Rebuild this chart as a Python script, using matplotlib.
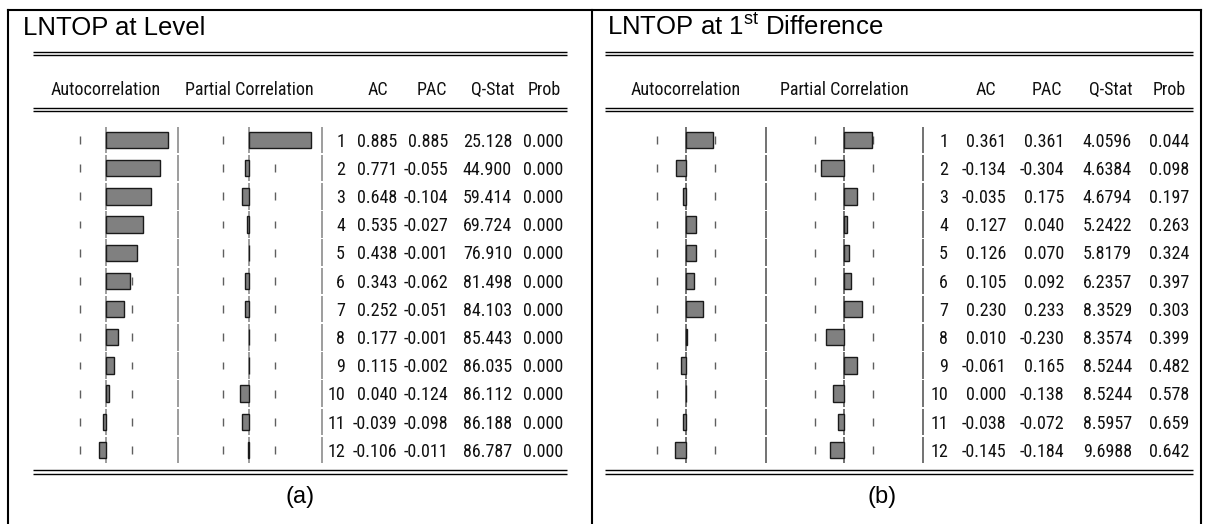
"""Two EViews-style correlograms of LNTOP: level (a) and first difference (b)."""

import matplotlib.pyplot as plt
import numpy as np
from matplotlib import font_manager

# ---- data -----------------------------------------------------------------
lags = np.arange(1, 13)

level_ac = [0.885, 0.771, 0.648, 0.535, 0.438, 0.343, 0.252, 0.177, 0.115, 0.040, -0.039, -0.106]
level_pac = [0.885, -0.055, -0.104, -0.027, -0.001, -0.062, -0.051, -0.001, -0.002, -0.124, -0.098, -0.011]
level_q = [25.128, 44.900, 59.414, 69.724, 76.910, 81.498, 84.103, 85.443, 86.035, 86.112, 86.188, 86.787]
level_prob = [0.000] * 12

diff_ac = [0.361, -0.134, -0.035, 0.127, 0.126, 0.105, 0.230, 0.010, -0.061, 0.000, -0.038, -0.145]
diff_pac = [0.361, -0.304, 0.175, 0.040, 0.070, 0.092, 0.233, -0.230, 0.165, -0.138, -0.072, -0.184]
diff_q = [4.0596, 4.6384, 4.6794, 5.2422, 5.8179, 6.2357, 8.3529, 8.3574, 8.5244, 8.5244, 8.5957, 9.6988]
diff_prob = [0.044, 0.098, 0.197, 0.263, 0.324, 0.397, 0.303, 0.399, 0.482, 0.578, 0.659, 0.642]

# observations behind each correlogram -> the +/- 2/sqrt(n) dashes
n_obs = [29, 28]
q_decimals = [3, 4]

titles = ["LNTOP at Level", "LNTOP at 1$^{\\mathrm{st}}$ Difference"]
panel_tags = ["(a)", "(b)"]
bar_headers = ["Autocorrelation", "Partial Correlation"]
column_headers = ["AC", "PAC", "Q-Stat", "Prob"]

# ---- layout (pixels) --------------------------------------------------------
W, H = 1209, 524
ROW_TOP, ROW_BOT = 125.9, 464.1  # 12 lag rows live between these

LAYOUT = [
    dict(title_x=23, rule=(33, 567), tag_x=300,
         ac=(106, 70), pac=(249, 70), seps=(178, 322),
         cols=(345, 397, 448, 512, 563), heads=(388, 447, 514, 561),
         line="#8c8c8c"),
    dict(title_x=607, rule=(605, 1193), tag_x=882,
         ac=(686, 76), pac=(844, 77), seps=(766, 923),
         cols=(948, 1006, 1064, 1132, 1189), heads=(996, 1062, 1132, 1186),
         line="#5a5a5a"),
]

BAR_FACE = "#808080"
BAR_EDGE = "#1a1a1a"
DASH = "#5f5f5f"
TEXT = "#111111"


def pick_narrow():
    # EViews tables use Arial Narrow; take a condensed face if one is installed
    names = {f.name for f in font_manager.fontManager.ttflist}
    for fam, size in (("Liberation Sans Narrow", 14.0), ("Roboto Condensed", 13.0)):
        if fam in names:
            return fam, size
    return "Liberation Sans", 12.0


NARROW, NARROW_PT = pick_narrow()

plt.rcParams["font.family"] = ["Liberation Sans", "DejaVu Sans"]
plt.rcParams["mathtext.fontset"] = "custom"
plt.rcParams["mathtext.rm"] = "Liberation Sans"


def row_axes(fig, x0, x1):
    ax = fig.add_axes([x0 / W, 1 - ROW_BOT / H, (x1 - x0) / W, (ROW_BOT - ROW_TOP) / H])
    ax.set_ylim(12.5, 0.5)
    ax.axis("off")
    ax.patch.set_alpha(0)
    return ax


def row_ticks(ax, x, half, **kw):
    # one short vertical segment per lag row at data position x
    ax.vlines(np.full(len(lags), x, dtype=float), lags - half, lags + half, **kw)


def draw_panel(fig, bg, *, layout, title, tag, ac, pac, q, prob, n, q_dec):
    r0, r1 = layout["rule"]
    for y in (51.5, 55.0, 107.5, 111.0, 470.0, 473.5):
        bg.plot([r0, r1], [y, y], color="black", lw=1.0, solid_capstyle="butt")
    bg.text(layout["title_x"], 35, title, fontsize=18.5, color="black", va="baseline")
    bg.text(layout["tag_x"], 497, tag, fontsize=17, color="black", ha="center", va="center")

    band = 2 / np.sqrt(n)
    for key, values, header in (("ac", ac, bar_headers[0]), ("pac", pac, bar_headers[1])):
        zero, scale = layout[key]
        ax = row_axes(fig, zero - scale, zero + scale)
        ax.set_xlim(-1, 1)
        row_ticks(ax, 0.0, 0.47, color=layout["line"], lw=1.2, zorder=0.5)
        for edge in (-band, band):
            row_ticks(ax, edge, 0.14, color=DASH, lw=1.0, zorder=0.5)
        ax.barh(lags, values, height=0.58, color=BAR_FACE, edgecolor=BAR_EDGE,
                linewidth=1.0, zorder=2)
        bg.text(zero, 95, header, fontfamily=NARROW, fontsize=NARROW_PT, color=TEXT,
                ha="center", va="baseline")

    tab = row_axes(fig, 0, W)
    tab.set_xlim(0, W)
    for x in layout["seps"]:
        row_ticks(tab, x, 0.47, color=layout["line"], lw=1.2)
    for x, label in zip(layout["heads"], column_headers):
        bg.text(x, 95, label, fontfamily=NARROW, fontsize=NARROW_PT, color=TEXT,
                ha="right", va="baseline")
    for lag, a, p, qq, pr in zip(lags, ac, pac, q, prob):
        cells = [str(lag), f"{a:.3f}", f"{p:.3f}", f"{qq:.{q_dec}f}", f"{pr:.3f}"]
        for x, s in zip(layout["cols"], cells):
            tab.text(x, lag + 0.24, s, fontfamily=NARROW, fontsize=NARROW_PT, color=TEXT,
                     ha="right", va="baseline")


fig = plt.figure(figsize=(W / 100, H / 100), dpi=100)
bg = fig.add_axes([0, 0, 1, 1])
bg.set_xlim(0, W)
bg.set_ylim(H, 0)
bg.axis("off")

# outer frames
bg.plot([8, 1201], [10, 10], color="black", lw=1.5, solid_capstyle="projecting")
for x in (8, 592, 1201):
    bg.plot([x, x], [10, H], color="black", lw=1.5)

series = [
    (level_ac, level_pac, level_q, level_prob),
    (diff_ac, diff_pac, diff_q, diff_prob),
]
for i, (ac, pac, q, prob) in enumerate(series):
    draw_panel(fig, bg, layout=LAYOUT[i], title=titles[i], tag=panel_tags[i],
               ac=ac, pac=pac, q=q, prob=prob, n=n_obs[i], q_dec=q_decimals[i])

fig.savefig("out.png", dpi=100)
plt.close(fig)
